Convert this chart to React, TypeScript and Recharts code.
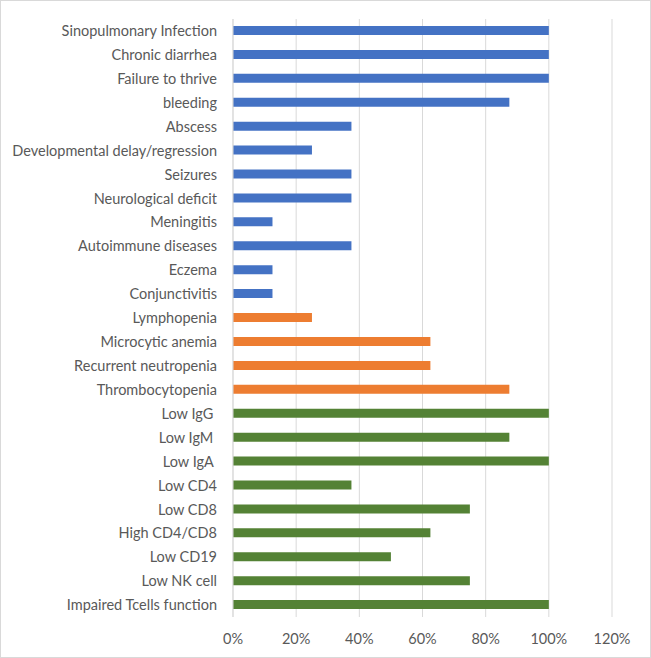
import { BarChart, Bar, XAxis, YAxis, CartesianGrid, Cell } from "recharts";

const categories = [
  "Sinopulmonary Infection",
  "Chronic diarrhea",
  "Failure to thrive",
  "bleeding",
  "Abscess",
  "Developmental delay/regression",
  "Seizures",
  "Neurological deficit",
  "Meningitis",
  "Autoimmune diseases",
  "Eczema",
  "Conjunctivitis",
  "Lymphopenia",
  "Microcytic  anemia",
  "Recurrent neutropenia",
  "Thrombocytopenia",
  "Low IgG ",
  "Low IgM ",
  "Low IgA ",
  "Low CD4",
  "Low CD8",
  "High CD4/CD8",
  "Low CD19",
  "Low NK cell",
  "Impaired Tcells function",
];

const values = [
  1, 1, 1, 0.875, 0.375, 0.25, 0.375, 0.375, 0.125, 0.375, 0.125, 0.125,
  0.25, 0.625, 0.625, 0.875,
  1, 0.875, 1, 0.375, 0.75, 0.625, 0.5, 0.75, 1,
];

// 0 = clinical, 1 = hematologic, 2 = immunologic
const groups = [
  0, 0, 0, 0, 0, 0, 0, 0, 0, 0, 0, 0,
  1, 1, 1, 1,
  2, 2, 2, 2, 2, 2, 2, 2, 2,
];

const groupColors = ["#4472C4", "#ED7D31", "#548235"];
const xTicks = [0, 0.2, 0.4, 0.6, 0.8, 1, 1.2];

const data = categories.map((name, i) => ({ name, value: values[i], group: groups[i] }));

const font = "Lato, 'Noto Sans', sans-serif";

export default function App() {
  return (
    <div
      style={{
        position: "absolute",
        left: 0,
        top: 0,
        width: 651,
        height: 658,
        boxSizing: "border-box",
        border: "1px solid #d9d9d9",
        background: "#fff",
      }}
    >
      <BarChart
        width={649}
        height={656}
        layout="vertical"
        data={data}
        barSize={9}
        margin={{ top: 18, right: 38, bottom: 0, left: 0 }}
        style={{ position: "absolute", left: 0, top: 0 }}
      >
        <CartesianGrid horizontal={false} stroke="#d9d9d9" />
        <XAxis
          type="number"
          domain={[0, 1.2]}
          ticks={xTicks}
          tickFormatter={(v: number) => `${Math.round(v * 100)}%`}
          axisLine={false}
          tickLine={false}
          tickSize={0}
          tickMargin={17}
          height={40}
          interval={0}
          tick={{ fill: "#595959", fontSize: 14.5, fontFamily: font }}
        />
        <YAxis
          type="category"
          dataKey="name"
          width={232}
          axisLine={{ stroke: "#d9d9d9" }}
          tickLine={false}
          tickSize={0}
          tickMargin={16}
          interval={0}
          tick={{ fill: "#595959", fontSize: 14.5, fontFamily: font, style: { whiteSpace: "pre" } }}
        />
        <Bar dataKey="value" isAnimationActive={false}>
          {data.map((d, i) => (
            <Cell key={i} fill={groupColors[d.group]} />
          ))}
        </Bar>
      </BarChart>
    </div>
  );
}
